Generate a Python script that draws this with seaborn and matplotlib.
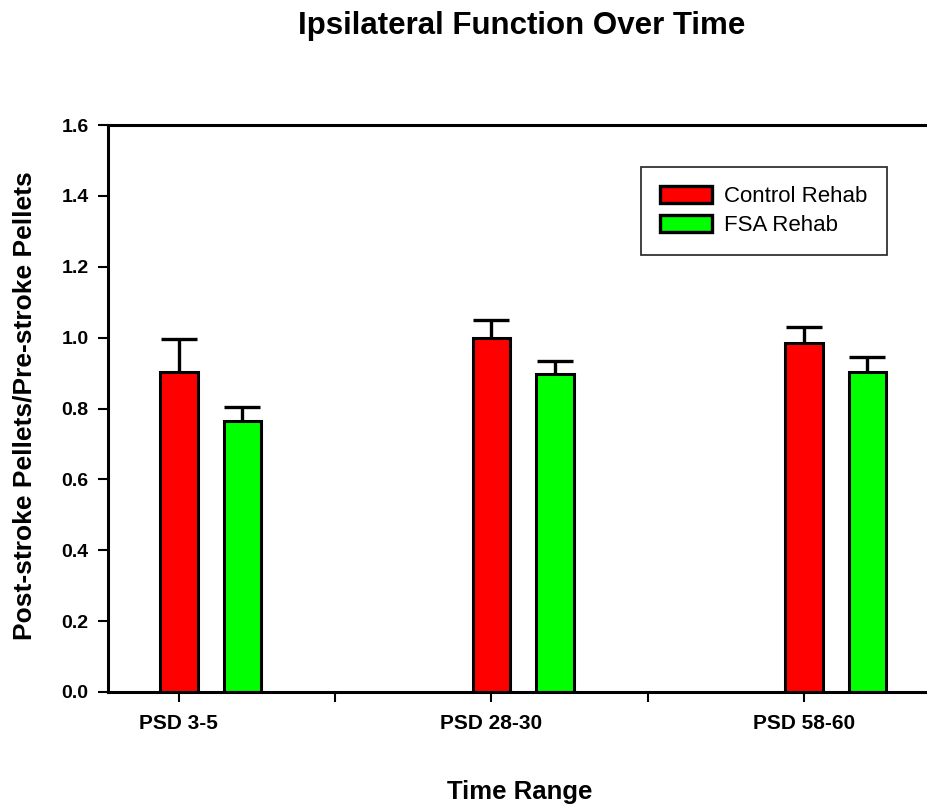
import matplotlib
matplotlib.use("Agg")
import matplotlib.pyplot as plt
from matplotlib.ticker import FixedLocator, MultipleLocator
import seaborn as sns
import pandas as pd
import numpy as np

categories = ["PSD 3-5", "PSD 28-30", "PSD 58-60"]
groups = ["Control Rehab", "FSA Rehab"]
control_means = [0.903, 0.998, 0.986]
fsa_means = [0.765, 0.897, 0.902]
control_err = [0.093, 0.053, 0.045]
fsa_err = [0.040, 0.037, 0.043]
colors = ["#ff0000", "#00ff00"]

df = pd.DataFrame({
    "Time Range": categories * 2,
    "Group": [groups[0]] * 3 + [groups[1]] * 3,
    "Value": control_means + fsa_means,
})

sns.set_style("white")
plt.rcParams["font.family"] = ["Liberation Sans", "DejaVu Sans"]
plt.rcParams["text.color"] = "black"
plt.rcParams["xtick.color"] = "black"
plt.rcParams["ytick.color"] = "black"
plt.rcParams["axes.labelcolor"] = "black"

fig = plt.figure(figsize=(9.27, 8.08), dpi=100)
ax = fig.add_axes([108 / 927, 1 - 692 / 808, 1 - 108 / 927, 567 / 808])

w = 0.406
sns.barplot(data=df, x="Time Range", y="Value", hue="Group", order=categories,
            hue_order=groups, palette=colors, width=w, gap=0.41, errorbar=None,
            edgecolor="black", linewidth=2.2, ax=ax, saturation=1)

# error bars (upper only) placed at the bar centers
errs = {groups[0]: control_err, groups[1]: fsa_err}
means = {groups[0]: control_means, groups[1]: fsa_means}
for gi, g in enumerate(groups):
    bars = ax.containers[gi]
    xs = [b.get_x() + b.get_width() / 2 for b in bars]
    _, caps, _ = ax.errorbar(xs, means[g], yerr=[np.zeros(3), errs[g]], fmt="none",
                             ecolor="black", elinewidth=2.4, capsize=13, capthick=2.4,
                             zorder=1)
    caps[0].set_visible(False)

offset = -w / 4
ax.set_xlim(offset - 0.227, offset + 2.394)
ax.set_ylim(0, 1.6)
ax.set_xticks([i + offset for i in range(3)])
ax.set_xticklabels(categories, fontweight="bold", fontsize=15)
ax.xaxis.set_minor_locator(FixedLocator([i + 0.5 + offset for i in range(2)]))
ax.yaxis.set_major_locator(MultipleLocator(0.2))
ax.set_yticklabels([f"{v:.1f}" for v in ax.get_yticks()], fontweight="bold", fontsize=14)
ax.tick_params(axis="both", which="both", direction="out", length=7, width=1.5,
               color="black", bottom=True, left=True)
ax.tick_params(axis="x", pad=9)
ax.tick_params(axis="y", pad=7)

for s in ["left", "bottom", "top"]:
    ax.spines[s].set_visible(True)
    ax.spines[s].set_color("black")
    ax.spines[s].set_linewidth(2.2)
ax.spines["right"].set_visible(False)

ax.set_xlabel("")
ax.set_ylabel("")

leg = ax.legend(loc="upper left", bbox_to_anchor=((641 - 108) / 819, (692 - 167) / 567),
                frameon=True, fancybox=False, edgecolor="black", fontsize=16,
                borderpad=0.85, handlelength=2.35, handleheight=0.8, labelspacing=0.35,
                handletextpad=0.55, borderaxespad=0)
leg.get_frame().set_linewidth(1.3)
for h in leg.legend_handles:
    h.set_edgecolor("black")
    h.set_linewidth(2.4)

fig.text(522 / 927, 1 - 26 / 808, "Ipsilateral Function Over Time", ha="center", va="center",
         fontweight="bold", fontsize=22.5)
fig.text(25 / 927, 1 - 406 / 808, "Post-stroke Pellets/Pre-stroke Pellets", ha="center",
         va="center", rotation=90, fontweight="bold", fontsize=19)
fig.text(520 / 927, 1 - 792 / 808, "Time Range", ha="center", va="center",
         fontweight="bold", fontsize=18.5)

fig.savefig("out.png", dpi=100, facecolor="white")
